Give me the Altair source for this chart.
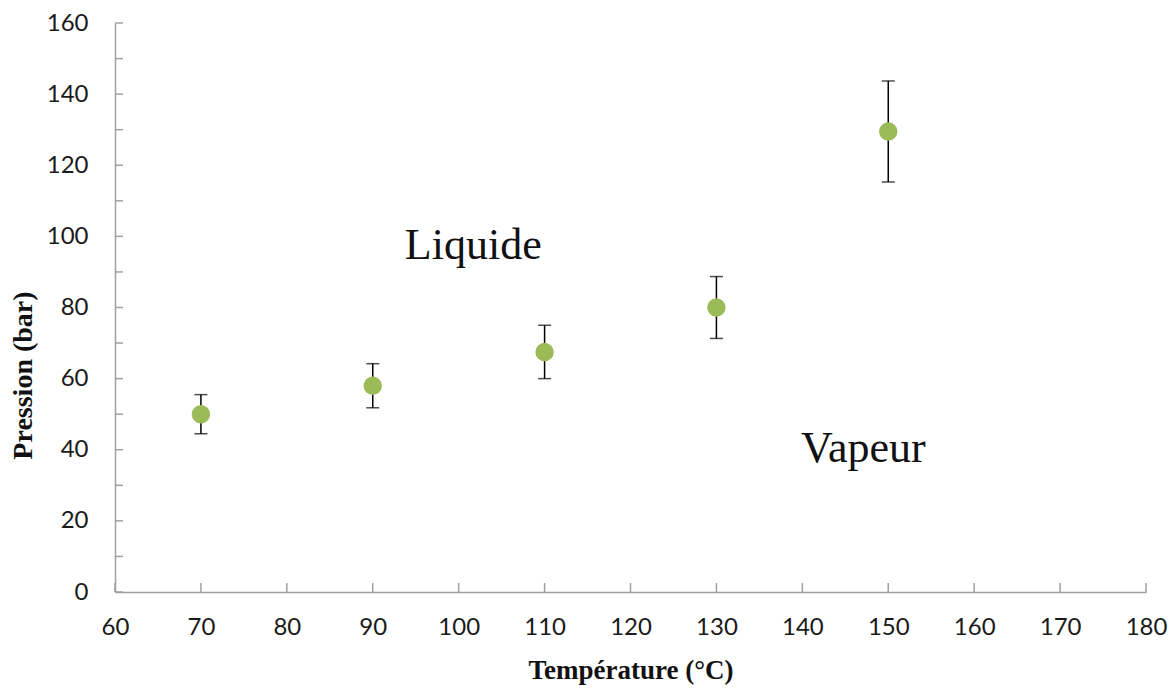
import altair as alt
import pandas as pd

temperature = [70, 90, 110, 130, 150]
pression = [50.0, 58.0, 67.5, 80.0, 129.5]
erreur = [5.5, 6.2, 7.5, 8.7, 14.2]

x_ticks = [60, 70, 80, 90, 100, 110, 120, 130, 140, 150, 160, 170, 180]
y_ticks = [0, 10, 20, 30, 40, 50, 60, 70, 80, 90, 100, 110, 120, 130, 140, 150, 160]
y_labels = [0, 20, 40, 60, 80, 100, 120, 140, 160]

annot_text = ["Liquide", "Vapeur"]
annot_x = [101.7, 147.1]
annot_y = [97.2, 40.1]

df = pd.DataFrame({"T": temperature, "P": pression, "e": erreur})
df["lo"] = df["P"] - df["e"]
df["hi"] = df["P"] + df["e"]
ann = pd.DataFrame({"t": annot_text, "x": annot_x, "y": annot_y})
xt = pd.DataFrame({"v": x_ticks})
yt = pd.DataFrame({"v": y_ticks})

W, H = 1031, 569
xscale = alt.Scale(domain=[60, 180], nice=False, zero=False)
yscale = alt.Scale(domain=[0, 160], nice=False)

axis_common = dict(
    domainColor="#A0A0A0", domainWidth=1.5, ticks=False, tickSize=0, grid=False,
    labelFont="Lato", labelFontSize=24, labelColor="#1a1a1a", labelFlush=False,
    titleFont="Liberation Serif", titleFontWeight="bold", titleColor="#111111",
)

xaxis = alt.Axis(values=x_ticks, title="Température (°C)", labelPadding=23, titlePadding=18,
                 titleFontSize=27, **axis_common)
yaxis = alt.Axis(values=y_labels, title="Pression (bar)", labelPadding=27,
                 titleFontSize=28, titleX=-92, titleY=352, titleAngle=270,
                 titleAlign="center", titleBaseline="middle", **axis_common)

base = alt.Chart(df)

rules = base.mark_rule(color="#000000", strokeWidth=1.5).encode(
    x=alt.X("T:Q", scale=xscale, axis=xaxis),
    y=alt.Y("lo:Q", scale=yscale, axis=yaxis),
    y2="hi:Q",
)
cap_lo = base.mark_tick(color="#000000", orient="horizontal", size=13, thickness=1.5).encode(
    x=alt.X("T:Q", scale=xscale), y=alt.Y("lo:Q", scale=yscale)
)
cap_hi = base.mark_tick(color="#000000", orient="horizontal", size=13, thickness=1.5).encode(
    x=alt.X("T:Q", scale=xscale), y=alt.Y("hi:Q", scale=yscale)
)
points = base.mark_circle(color="#9BBB59", opacity=1, size=340).encode(
    x=alt.X("T:Q", scale=xscale), y=alt.Y("P:Q", scale=yscale)
)

xticks = alt.Chart(xt).mark_rule(color="#A0A0A0", strokeWidth=1.5).encode(
    x=alt.X("v:Q", scale=xscale), y=alt.value(H), y2=alt.value(H - 9)
)
yticks = alt.Chart(yt).mark_rule(color="#A0A0A0", strokeWidth=1.5).encode(
    y=alt.Y("v:Q", scale=yscale), x=alt.value(0), x2=alt.value(8)
)

labels = alt.Chart(ann).mark_text(font="Liberation Serif", fontSize=44, color="#111111",
                                  align="center", baseline="middle").encode(
    x=alt.X("x:Q", scale=xscale), y=alt.Y("y:Q", scale=yscale), text="t:N"
)

chart = alt.layer(rules, cap_lo, cap_hi, points, xticks, yticks, labels).properties(
    width=W, height=H,
    padding={"left": 115, "top": 23, "right": 29, "bottom": 96},
    autosize=alt.AutoSizeParams(type="none"),
    background="white",
).configure_view(stroke=None)

chart.save("out.html", embed_options={"renderer": "svg", "actions": False})
